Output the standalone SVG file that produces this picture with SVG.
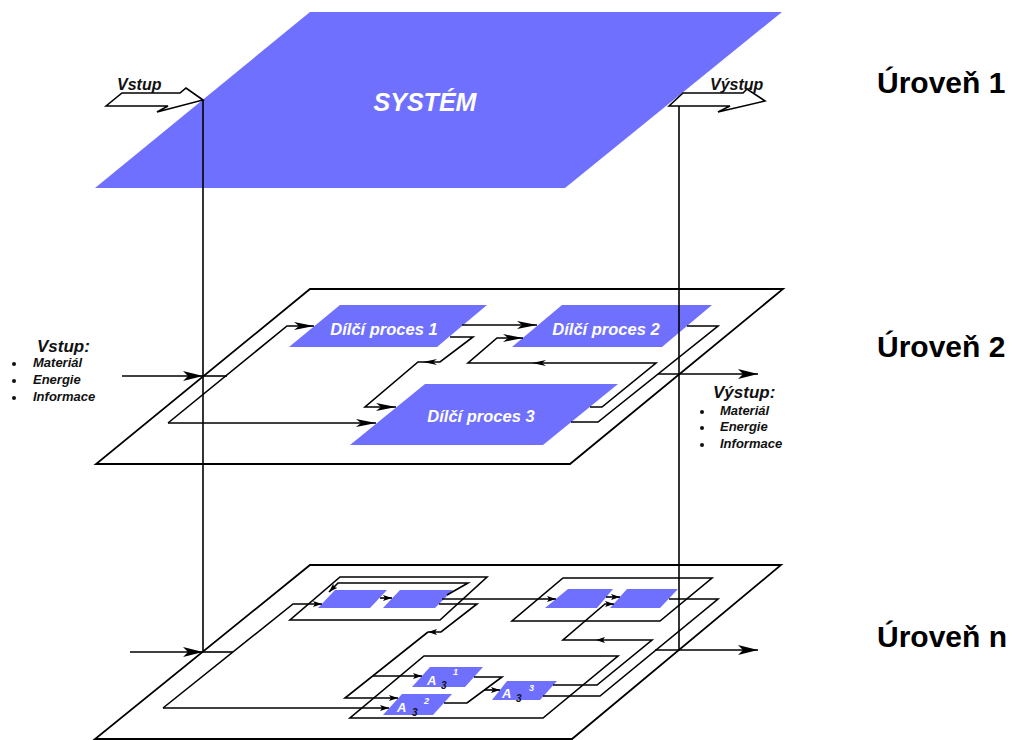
<svg xmlns="http://www.w3.org/2000/svg" width="1016" height="740" viewBox="0 0 1016 740">
<defs>
<style>
.pl{fill:#fff;stroke:#000;stroke-width:1.8;stroke-linejoin:miter}
.sb{fill:none;stroke:#000;stroke-width:1.6}
.bx{fill:#7070ff;stroke:none}
.ln{fill:none;stroke:#000;stroke-width:1.6}
.ar{fill:#fff;stroke:#000;stroke-width:1.6;stroke-linejoin:miter}
.t{font-family:"Liberation Sans",Arial,sans-serif;font-weight:bold;font-style:italic}
.w{fill:#fff}
.k{fill:#111}
.lvl{font-family:"Liberation Sans",Arial,sans-serif;font-weight:bold;font-size:30px;fill:#000}
</style>
<marker id="ab" viewBox="0 0 20 10" refX="20" refY="5" markerWidth="20" markerHeight="10" markerUnits="userSpaceOnUse" orient="auto"><path d="M0,0 L20,5 L0,10 L5,5 Z" fill="#000"/></marker>
<marker id="am" viewBox="0 0 20 8" refX="20" refY="4" markerWidth="20" markerHeight="8" markerUnits="userSpaceOnUse" orient="auto"><path d="M0,0 L20,4 L0,8 L5,4 Z" fill="#000"/></marker>
<marker id="ar" viewBox="0 0 14 6" refX="14" refY="3" markerWidth="14" markerHeight="6" markerUnits="userSpaceOnUse" orient="auto"><path d="M0,0 L14,3 L0,6 L4,3 Z" fill="#000"/></marker>
<marker id="as" viewBox="0 0 9 6" refX="9" refY="3" markerWidth="9" markerHeight="6" markerUnits="userSpaceOnUse" orient="auto"><path d="M0,0 L9,3 L0,6 L2,3 Z" fill="#000"/></marker>
</defs>
<rect width="1016" height="740" fill="#fff"/>

<g id="plane-system">
<polygon class="bx" points="310,12 782,12 565,188 95,188"/>
<text class="t w" x="425" y="111" font-size="25" text-anchor="middle">SYSTÉM</text>
</g>

<g id="plane-level2">
<polygon class="pl" points="310,289 783,289 570,464 96,464"/>
</g>

<g id="proces1">
<polygon class="bx" points="340,305 487,305 437,347 289,347"/>
<text class="t w" x="384" y="335" font-size="16.5" text-anchor="middle">Dílčí proces 1</text>
</g>
<g id="proces2">
<polygon class="bx" points="562,305 712,305 662,347 512,347"/>
<text class="t w" x="606" y="335" font-size="16.5" text-anchor="middle">Dílčí proces 2</text>
</g>
<g id="proces3">
<polygon class="bx" points="425,384 618,384 543,445 350,445"/>
<text class="t w" x="481" y="422" font-size="16.5" text-anchor="middle">Dílčí proces 3</text>
</g>

<g id="plane-leveln">
<polygon class="pl" points="310,565 781,565 572,739 95,739"/>
</g>

<g id="sub1">
<polygon class="sb" points="340,577 487,577 440,620 290,620"/>
<polygon class="bx" points="335,590 387,590 370,608 318,608"/>
<polygon class="bx" points="400,590 453,590 435,608 383,608"/>
</g>
<g id="sub2">
<polygon class="sb" points="563,578 712,578 660,621 512,621"/>
<polygon class="bx" points="568,589 613,589 597,608 545,608"/>
<polygon class="bx" points="627,589 678,589 660,608 610,608"/>
</g>
<g id="sub3">
<polygon class="sb" points="424,656 618,656 543,718 350,718"/>
</g>
<g id="a31">
<polygon class="bx" points="430,667 483,667 465,687 412,687"/>
<text class="t w" x="427" y="685" font-size="13">A</text>
<text class="t k" x="441" y="689" font-size="10">3</text>
<text class="t w" x="453" y="675" font-size="9">1</text>
</g>
<g id="a32">
<polygon class="bx" points="402,694 452,694 433,715 383,715"/>
<text class="t w" x="397" y="712" font-size="13">A</text>
<text class="t k" x="412" y="716" font-size="10">3</text>
<text class="t w" x="424" y="704" font-size="9">2</text>
</g>
<g id="a33">
<polygon class="bx" points="507,681 557,681 540,700 492,700"/>
<text class="t w" x="502" y="698" font-size="13">A</text>
<text class="t k" x="516" y="702" font-size="10">3</text>
<text class="t w" x="529" y="691" font-size="9">3</text>
</g>

<g id="connectors">
<path class="ln" d="M122,376 L203,376" marker-end="url(#ab)"/>
<path class="ln" d="M203,376 L227,376"/>
<path class="ln" d="M168,423 L287,326 L314,326" marker-end="url(#am)"/>
<path class="ln" d="M168,423 L376,423" marker-end="url(#am)"/>
<path class="ln" d="M462,325 L537,325" marker-end="url(#am)"/>
<path class="ln" d="M450,337 L473,337 L440,362 L423,362" marker-end="url(#ar)"/>
<path class="ln" d="M423,362 L418,362 L365,407 L396,407" marker-end="url(#am)"/>
<path class="ln" d="M590,407 L602,407 L656,363 L532,363" marker-end="url(#ar)"/>
<path class="ln" d="M532,363 L468,363 L497,338 L523,338" marker-end="url(#am)"/>
<path class="ln" d="M571,422 L598,422 L718,326 L687,326"/>
<path class="ln" d="M658,374 L758,374" marker-end="url(#ab)"/>
<path class="ln" d="M130,652 L203,652" marker-end="url(#ab)"/>
<path class="ln" d="M203,652 L233,652"/>
<path class="ln" d="M163,708 L293,604 L322,604" marker-end="url(#as)"/>
<path class="ln" d="M163,708 L389,708" marker-end="url(#as)"/>
<path class="ln" d="M380,598 L392,598" marker-end="url(#as)"/>
<path class="ln" d="M447,595 L468,583 L338,583 L329,592" marker-end="url(#as)"/>
<path class="ln" d="M442,599 L556,599" marker-end="url(#as)"/>
<path class="ln" d="M439,604 L477,604 L441,632 L428,632" marker-end="url(#as)"/>
<path class="ln" d="M428,632 L345,698 L398,698" marker-end="url(#as)"/>
<path class="ln" d="M373,676 L422,676" marker-end="url(#as)"/>
<path class="ln" d="M474,677 L502,677 L467,703 L444,703"/>
<path class="ln" d="M484,690 L500,690" marker-end="url(#as)"/>
<path class="ln" d="M553,685 L597,685 L652,640 L596,640" marker-end="url(#as)"/>
<path class="ln" d="M596,640 L563,640 L605,604 L614,604" marker-end="url(#as)"/>
<path class="ln" d="M543,696 L600,696 L718,599 L669,599"/>
<path class="ln" d="M606,597 L620,597" marker-end="url(#as)"/>
<path class="ln" d="M655,650 L758,650" marker-end="url(#ab)"/>
<path class="ln" d="M203,100 L203,652"/>
<path class="ln" d="M679,97 L679,650"/>
</g>

<g id="vstup-top">
<polygon class="ar" points="106,106 122,93 180,93 186,88 203,100 157,112 168,106"/>
<text class="t k" x="117" y="90" font-size="16">Vstup</text>
</g>
<g id="vystup-top">
<polygon class="ar" points="669,106 683,93 743,93 747,89 765,101 718,112 730,106"/>
<text class="t k" x="710" y="90" font-size="16">Výstup</text>
</g>

<g id="vstup-label">
<text class="t k" x="37" y="352" font-size="17">Vstup:</text>
<circle cx="14" cy="364" r="2" fill="#111"/>
<circle cx="14" cy="381" r="2" fill="#111"/>
<circle cx="14" cy="398" r="2" fill="#111"/>
<text class="t k" x="33" y="367" font-size="13">Materiál</text>
<text class="t k" x="33" y="384" font-size="13">Energie</text>
<text class="t k" x="33" y="401" font-size="13">Informace</text>
</g>
<g id="vystup-label">
<text class="t k" x="713" y="398" font-size="17">Výstup:</text>
<circle cx="702" cy="412" r="2" fill="#111"/>
<circle cx="702" cy="428" r="2" fill="#111"/>
<circle cx="702" cy="445" r="2" fill="#111"/>
<text class="t k" x="720" y="415" font-size="13">Materiál</text>
<text class="t k" x="720" y="431" font-size="13">Energie</text>
<text class="t k" x="720" y="448" font-size="13">Informace</text>
</g>

<g id="levels">
<text class="lvl" x="877" y="93">Úroveň 1</text>
<text class="lvl" x="877" y="357">Úroveň 2</text>
<text class="lvl" x="877" y="647">Úroveň n</text>
</g>
</svg>
